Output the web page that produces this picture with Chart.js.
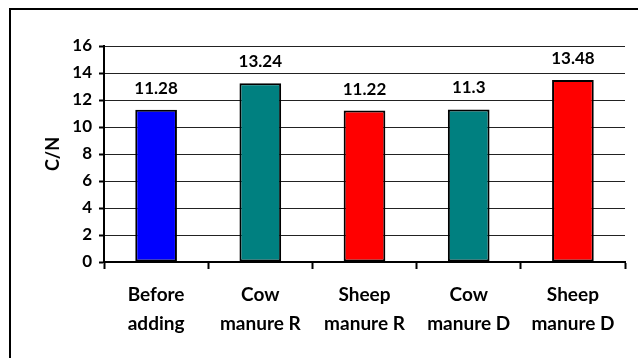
<!DOCTYPE html>
<html>
<head>
<meta charset="utf-8">
<script src="https://cdn.jsdelivr.net/npm/chart.js@4/dist/chart.umd.min.js"></script>
<style>
    body { margin: 0; background: #fff; }
    #wrap { position: relative; width: 638px; height: 358px; }
</style>
</head>
<body>
<div id="wrap"><canvas id="cnChart" width="638" height="358"></canvas></div>
<script>
// C/N ratio per treatment
const categories = [['Before', 'adding'], ['Cow', 'manure R'], ['Sheep', 'manure R'], ['Cow', 'manure D'], ['Sheep', 'manure D']];
const cnValues = [11.28, 13.24, 11.22, 11.3, 13.48];
const barColors = ['#0000ff', '#008080', '#ff0000', '#008080', '#ff0000'];
const yTicks = [0, 2, 4, 6, 8, 10, 12, 14, 16];

const FONT = 'Lato, "Open Sans", sans-serif';

// Frame lines along the top and left edge of the figure
const framePlugin = {
    id: 'frame',
    beforeDraw(chart) {
        const ctx = chart.ctx;
        ctx.save();
        ctx.fillStyle = '#000';
        ctx.fillRect(9, 8, chart.width - 9, 2);
        ctx.fillRect(9, 8, 2, chart.height - 8);
        ctx.restore();
    }
};

// Value written above each bar
const valueLabels = {
    id: 'valueLabels',
    afterDatasetsDraw(chart) {
        const ctx = chart.ctx;
        const meta = chart.getDatasetMeta(0);
        ctx.save();
        ctx.font = 'bold 17px ' + FONT;
        ctx.fillStyle = '#000';
        ctx.textAlign = 'center';
        ctx.textBaseline = 'alphabetic';
        meta.data.forEach((bar, i) => {
            ctx.fillText(String(cnValues[i]), bar.x, bar.y - 16);
        });
        ctx.restore();
    }
};

new Chart(document.getElementById('cnChart'), {
    type: 'bar',
    data: {
        labels: categories,
        datasets: [{
            data: cnValues,
            backgroundColor: barColors,
            borderColor: '#000',
            borderWidth: 2,
            borderSkipped: false,
            barPercentage: 0.4,
            categoryPercentage: 1
        }]
    },
    options: {
        responsive: false,
        animation: false,
        layout: { padding: { top: 46, right: 13, left: 0, bottom: 0 } },
        plugins: {
            legend: { display: false },
            tooltip: { enabled: false }
        },
        scales: {
            x: {
                afterFit(scale) { scale.height = 96; },
                grid: {
                    offset: true,
                    drawOnChartArea: false,
                    drawTicks: true,
                    tickLength: 7,
                    tickWidth: 2,
                    tickColor: '#000'
                },
                border: { color: '#000', width: 2 },
                ticks: {
                    color: '#000',
                    padding: 12,
                    maxRotation: 0,
                    font: { family: FONT, size: 19, weight: 'bold', lineHeight: 1.5 }
                }
            },
            y: {
                min: 0,
                max: 16,
                afterFit(scale) { scale.width = 104; },
                afterBuildTicks(scale) { scale.ticks = yTicks.map(v => ({ value: v })); },
                grid: {
                    color: '#222',
                    lineWidth: 1,
                    tickLength: 5,
                    tickColor: '#000',
                    tickWidth: 2
                },
                border: { color: '#000', width: 2 },
                ticks: {
                    color: '#000',
                    padding: 7,
                    font: { family: FONT, size: 17, weight: 'bold' }
                },
                title: {
                    display: true,
                    text: 'C/N',
                    color: '#000',
                    padding: { top: 42, bottom: 0 },
                    font: { family: FONT, size: 18, weight: 'bold' }
                }
            }
        }
    },
    plugins: [framePlugin, valueLabels]
});
</script>
</body>
</html>
